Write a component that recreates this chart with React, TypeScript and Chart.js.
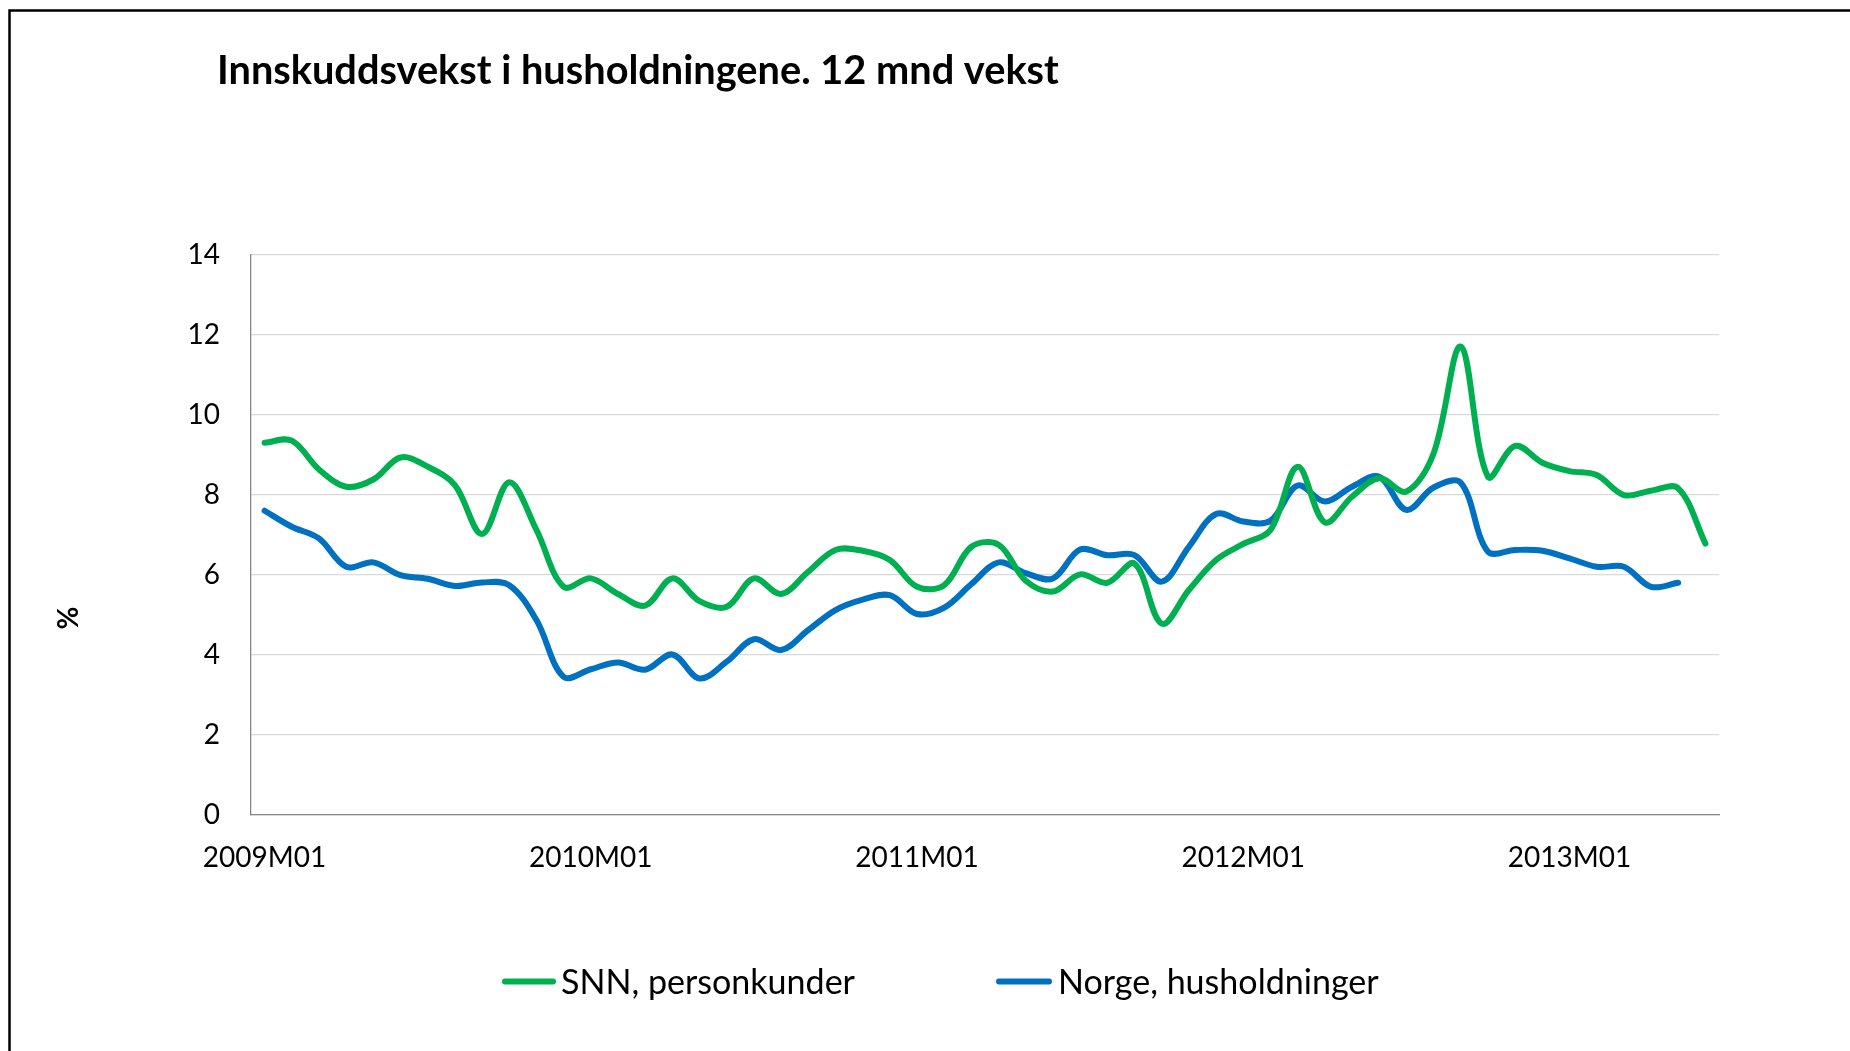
import React, { useEffect, useRef } from 'react';
import { Chart, registerables } from 'chart.js';

Chart.register(...registerables);

// ---- data ----
const CATEGORIES: string[] = [
  '2009M01', '2009M02', '2009M03', '2009M04', '2009M05', '2009M06', '2009M07', '2009M08', '2009M09', '2009M10', '2009M11', '2009M12',
  '2010M01', '2010M02', '2010M03', '2010M04', '2010M05', '2010M06', '2010M07', '2010M08', '2010M09', '2010M10', '2010M11', '2010M12',
  '2011M01', '2011M02', '2011M03', '2011M04', '2011M05', '2011M06', '2011M07', '2011M08', '2011M09', '2011M10', '2011M11', '2011M12',
  '2012M01', '2012M02', '2012M03', '2012M04', '2012M05', '2012M06', '2012M07', '2012M08', '2012M09', '2012M10', '2012M11', '2012M12',
  '2013M01', '2013M02', '2013M03', '2013M04', '2013M05', '2013M06',
];

const SNN_PERSONKUNDER: number[] = [
  9.30, 9.35, 8.63, 8.20, 8.38, 8.93, 8.70, 8.24, 7.02, 8.31, 7.12, 5.70,
  5.91, 5.52, 5.23, 5.91, 5.34, 5.20, 5.91, 5.52, 6.08, 6.62, 6.60, 6.37,
  5.70, 5.74, 6.70, 6.75, 5.85, 5.58, 6.01, 5.80, 6.28, 4.78, 5.62, 6.37,
  6.77, 7.12, 8.70, 7.31, 7.95, 8.41, 8.08, 9.03, 11.70, 8.45, 9.22, 8.80,
  8.59, 8.49, 7.99, 8.10, 8.16, 6.78,
];

const NORGE_HUSHOLDNINGER: number[] = [
  7.60, 7.20, 6.91, 6.20, 6.31, 5.99, 5.90, 5.72, 5.81, 5.74, 4.87, 3.45,
  3.64, 3.81, 3.63, 4.01, 3.41, 3.83, 4.39, 4.12, 4.62, 5.12, 5.38, 5.49,
  5.02, 5.18, 5.77, 6.31, 6.04, 5.91, 6.63, 6.49, 6.49, 5.83, 6.70, 7.52,
  7.33, 7.35, 8.23, 7.83, 8.20, 8.45, 7.62, 8.18, 8.30, 6.58, 6.62, 6.60,
  6.41, 6.20, 6.20, 5.70, 5.80,
];

const X_TICK_LABELS: string[] = ['2009M01', '2010M01', '2011M01', '2012M01', '2013M01'];
const Y_MIN = 0;
const Y_MAX = 14;
const Y_STEP = 2;

const TITLE = 'Innskuddsvekst i husholdningene. 12 mnd vekst';
const Y_TITLE = '%';
const SERIES_NAMES: string[] = ['SNN, personkunder', 'Norge, husholdninger'];

// ---- style ----
const GREEN = '#00B050';
const BLUE = '#0070C0';
const FONT = 'Lato, "Open Sans", "Liberation Sans", sans-serif';

function fitSize(ctx: CanvasRenderingContext2D, text: string, weight: string, target: number): number {
  const base = 40;
  ctx.font = `${weight} ${base}px ${FONT}`;
  const w = ctx.measureText(text).width;
  return (base * target) / w;
}

const decorPlugin = {
  id: 'decor',
  beforeDraw(chart: any) {
    const ctx: CanvasRenderingContext2D = chart.ctx;
    ctx.save();
    ctx.fillStyle = '#ffffff';
    ctx.fillRect(0, 0, chart.width, chart.height);
    ctx.restore();
  },
  afterDraw(chart: any) {
    const ctx: CanvasRenderingContext2D = chart.ctx;
    ctx.save();

    // outer frame
    ctx.strokeStyle = '#000000';
    ctx.lineWidth = 2.5;
    ctx.strokeRect(9.5, 10.5, 4000, 4000);

    // title
    ctx.fillStyle = '#000000';
    ctx.textAlign = 'left';
    ctx.textBaseline = 'alphabetic';
    const tSize = fitSize(ctx, TITLE, 'bold', 842);
    ctx.font = `bold ${tSize}px ${FONT}`;
    ctx.fillText(TITLE, 217, 84);

    // y axis title
    ctx.save();
    ctx.translate(69, 618);
    ctx.rotate(-Math.PI / 2);
    ctx.font = `bold 28px ${FONT}`;
    ctx.textAlign = 'center';
    ctx.textBaseline = 'middle';
    ctx.fillText(Y_TITLE, 0, 0);
    ctx.restore();

    // legend
    const datasets = chart.data.datasets;
    ctx.font = `40px ${FONT}`;
    const w0 = ctx.measureText(SERIES_NAMES[0]).width;
    const w1 = ctx.measureText(SERIES_NAMES[1]).width;
    const lSize = (40 * (292 + 323)) / (w0 + w1);
    const items = [
      { x0: 505, x1: 553, tx: 561 },
      { x0: 999, x1: 1049, tx: 1058 },
    ];
    const ly = 981.5;
    items.forEach((it, i) => {
      ctx.beginPath();
      ctx.strokeStyle = datasets[i].borderColor;
      ctx.lineWidth = 6;
      ctx.lineCap = 'round';
      ctx.moveTo(it.x0, ly);
      ctx.lineTo(it.x1, ly);
      ctx.stroke();
      ctx.fillStyle = '#000000';
      ctx.font = `${lSize}px ${FONT}`;
      ctx.textAlign = 'left';
      ctx.textBaseline = 'alphabetic';
      ctx.fillText(SERIES_NAMES[i], it.tx, 994);
    });

    ctx.restore();
  },
};

export default function App() {
  const canvasRef = useRef<HTMLCanvasElement | null>(null);

  useEffect(() => {
    const canvas = canvasRef.current;
    if (!canvas) return;
    const chart = new Chart(canvas, {
      type: 'line',
      data: {
        labels: CATEGORIES,
        datasets: [
          {
            label: SERIES_NAMES[0],
            data: SNN_PERSONKUNDER,
            borderColor: GREEN,
            backgroundColor: GREEN,
            borderWidth: 6,
            pointRadius: 0,
            pointHoverRadius: 0,
            tension: 0.35,
            fill: false,
            borderCapStyle: 'round',
            borderJoinStyle: 'round',
          },
          {
            label: SERIES_NAMES[1],
            data: NORGE_HUSHOLDNINGER,
            borderColor: BLUE,
            backgroundColor: BLUE,
            borderWidth: 6,
            pointRadius: 0,
            pointHoverRadius: 0,
            tension: 0.35,
            fill: false,
            borderCapStyle: 'round',
            borderJoinStyle: 'round',
          },
        ],
      },
      options: {
        animation: false,
        responsive: false,
        devicePixelRatio: 1,
        events: [],
        layout: { padding: { left: 40, top: 254.5, right: 131, bottom: 176 } },
        plugins: {
          legend: { display: false },
          title: { display: false },
          tooltip: { enabled: false },
        },
        scales: {
          x: {
            type: 'category',
            offset: true,
            grid: { display: false, drawTicks: false },
            border: { display: true, color: '#868686', width: 1.3 },
            ticks: {
              autoSkip: false,
              maxRotation: 0,
              minRotation: 0,
              padding: 26,
              color: '#000000',
              font: { family: FONT, size: 28 },
              callback: (_v: any, i: number) => {
                const l = CATEGORIES[i];
                return X_TICK_LABELS.includes(l) ? l : '';
              },
            },
            afterFit: (s: any) => {
              s.height = 60;
            },
          },
          y: {
            min: Y_MIN,
            max: Y_MAX,
            ticks: {
              stepSize: Y_STEP,
              padding: 31,
              color: '#000000',
              font: { family: FONT, size: 28 },
            },
            grid: { color: '#d9d9d9', lineWidth: 1.3, drawTicks: false },
            border: { display: true, color: '#868686', width: 1.3 },
            afterFit: (s: any) => {
              s.width = 211;
            },
          },
        },
      },
      plugins: [decorPlugin],
    } as any);
    return () => chart.destroy();
  }, []);

  return (
    <div style={{ position: 'absolute', left: 0, top: 0, width: 1850, height: 1051, background: '#ffffff', overflow: 'hidden' }}>
      <canvas ref={canvasRef} width={1850} height={1051} style={{ display: 'block', width: 1850, height: 1051 }} />
    </div>
  );
}
